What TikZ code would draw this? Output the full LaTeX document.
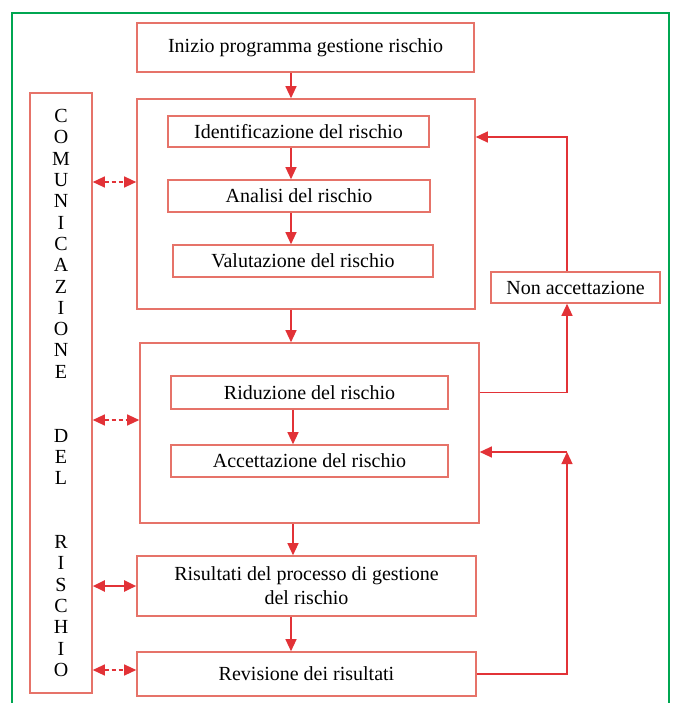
\documentclass[tikz,border=0pt]{standalone}
\usepackage{fontspec}
\setmainfont{Liberation Serif}
\usetikzlibrary{arrows.meta}
\definecolor{boxred}{RGB}{230,115,105}
\definecolor{arrred}{RGB}{226,50,55}
\definecolor{framegreen}{RGB}{0,166,81}
\tikzset{
  box/.style={draw=boxred, line width=1.6pt, inner sep=0pt, align=center,
    font=\fontsize{20}{24}\selectfont},
  link/.style={draw=arrred, line width=1.2pt, -{Triangle[length=12pt,width=11pt]}},
  both/.style={draw=arrred, line width=1.2pt,
    {Triangle[length=12pt,width=11pt]}-{Triangle[length=12pt,width=11pt]}},
  dash7/.style={dash pattern=on 4pt off 3pt}
}
\begin{document}
\begin{tikzpicture}[x=1pt,y=-1pt]
  \useasboundingbox (0,0) rectangle (675,703);
  \fill[white] (0,0) rectangle (675,703);
  \draw[framegreen, line width=2.5pt] (12,712) |- (669,13) -- (669,712);

  % main column
  \node[box, minimum width=337pt, minimum height=49pt] (inizio) at (305.5,47.5) {Inizio programma gestione rischio};
  \node[box, minimum width=338pt, minimum height=210pt] (blockA) at (306,204) {};
  \node[box, minimum width=261pt, minimum height=31pt] (ident) at (298.5,131.5) {Identificazione del rischio};
  \node[box, minimum width=262pt, minimum height=32pt] (analisi) at (299,196) {Analisi del rischio};
  \node[box, minimum width=260pt, minimum height=32pt] (valut) at (303,261) {Valutazione del rischio};
  \node[box, minimum width=339pt, minimum height=180pt] (blockB) at (309.5,433) {};
  \node[box, minimum width=277pt, minimum height=33pt] (riduz) at (309.5,392.5) {Riduzione del rischio};
  \node[box, minimum width=277pt, minimum height=32pt] (accett) at (309.5,461) {Accettazione del rischio};
  \node[box, minimum width=339pt, minimum height=60pt] (risult) at (306.5,586) {Risultati del processo di gestione\\del rischio};
  \node[box, minimum width=339pt, minimum height=44pt] (revis) at (306.5,674) {Revisione dei risultati};

  % side boxes
  \node[box, minimum width=62pt, minimum height=600pt, font=\fontsize{20}{21.3}\selectfont] (comm) at (61,393)
    {C\\O\\M\\U\\N\\I\\C\\A\\Z\\I\\O\\N\\E\\[42.6pt]D\\E\\L\\[42.6pt]R\\I\\S\\C\\H\\I\\O};
  \node[box, minimum width=169pt, minimum height=31pt] (nonacc) at (575.5,287.5) {Non accettazione};

  \coordinate (ax) at (291,0);
  \coordinate (bx) at (293,0);
  \coordinate (rx) at (567,0);
  \coordinate (topback) at (567,137);
  \coordinate (lowback) at (567,452);

  % downward arrows
  \draw[link] (inizio.south -| ax) -- (blockA.north -| ax);
  \draw[link] (ident.south -| ax) -- (analisi.north -| ax);
  \draw[link] (analisi.south -| ax) -- (valut.north -| ax);
  \draw[link] (blockA.south -| ax) -- (blockB.north -| ax);
  \draw[link] (riduz.south -| bx) -- (accett.north -| bx);
  \draw[link] (blockB.south -| bx) -- (risult.north -| bx);
  \draw[link] (risult.south -| ax) -- (revis.north -| ax);

  % loops on the right
  \draw[link] (riduz -| blockB.east) -| (nonacc.south -| rx);
  \draw[link] (nonacc.north -| rx) -- (topback) -- (topback -| blockA.east);
  \draw[link] (revis.east) -| (lowback);
  \draw[link] (lowback) -- (lowback -| blockB.east);

  % communication arrows
  \coordinate (c1) at (0,182);
  \coordinate (c2) at (0,420);
  \coordinate (c3) at (0,670);
  \draw[both, dash7] (comm.east |- c1) -- (blockA.west |- c1);
  \draw[both, dash7] (comm.east |- c2) -- (blockB.west |- c2);
  \draw[both, line width=2.4pt] (comm.east |- risult) -- (risult.west);
  \draw[both, dash7] (comm.east |- c3) -- (revis.west |- c3);
\end{tikzpicture}
\end{document}
